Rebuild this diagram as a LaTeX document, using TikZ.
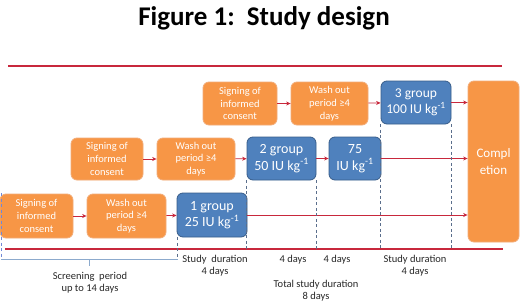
\documentclass[tikz,border=0pt]{standalone}
\usepackage{fontspec}
\setmainfont{Carlito}
\usetikzlibrary{arrows.meta}
\definecolor{boxorange}{RGB}{247,150,70}
\definecolor{orangeedge}{RGB}{242,172,120}
\definecolor{boxblue}{RGB}{79,129,189}
\definecolor{blueedge}{RGB}{56,93,138}
\definecolor{linered}{RGB}{200,40,60}
\definecolor{dashgrey}{RGB}{90,110,140}
\definecolor{bracketblue}{RGB}{140,170,205}
\definecolor{labelgrey}{RGB}{40,40,40}
\tikzset{
  obox/.style={draw=orangeedge, line width=0.8pt, fill=boxorange, rounded corners=6pt,
    text=white, align=center, inner sep=0pt, font=\fontsize{10.5}{12.7}\selectfont},
  bbox/.style={draw=blueedge, line width=0.8pt, fill=boxblue, rounded corners=6pt,
    text=white, align=center, inner sep=0pt, font=\fontsize{14}{16.5}\selectfont},
  flow/.style={draw=linered, line width=0.8pt, -{Stealth[length=4.5pt,width=4pt]}},
  redrule/.style={draw=linered, line width=1.8pt},
  vdash/.style={draw=dashgrey, line width=0.8pt, dash pattern=on 3pt off 2.5pt},
  lbl/.style={text=labelgrey, align=center, inner sep=0pt, font=\fontsize{10.5}{12}\selectfont}
}
\begin{document}
\begin{tikzpicture}[x=1pt,y=-1pt]
\useasboundingbox[fill=white] (0,0) rectangle (520,303);
\node[font=\fontsize{27}{30}\selectfont\bfseries, inner sep=0pt] (title) at (264,18) {Figure 1:\ \ Study design};
% red rules
\coordinate (tl) at (8,66); \coordinate (tr) at (502,66);
\coordinate (bl) at (5,249); \coordinate (br) at (503,249);
\draw[redrule] (tl) -- (tr);
\draw[redrule] (bl) -- (br);
% boxes row 1
\node[obox, minimum width=74pt, minimum height=43pt] (s1) at (240,103.5) {Signing of\\informed\\consent};
\node[obox, minimum width=77pt, minimum height=43pt] (w1) at (329.5,103.5) {Wash out\\period ≥4\\days};
\node[bbox, minimum width=70pt, minimum height=43pt, font=\fontsize{13.5}{16.5}\selectfont] (g3) at (416,102.5) {3 group\\100 IU kg\textsuperscript{-1}};
\node[obox, minimum width=51pt, minimum height=161pt, font=\fontsize{13}{16.5}\selectfont] (c) at (493.5,161.5) {Compl\\etion};
% row 2
\node[obox, minimum width=72pt, minimum height=42pt] (s2) at (107,159) {Signing of\\informed\\consent};
\node[obox, minimum width=78pt, minimum height=42pt] (w2) at (196,159) {Wash out\\period ≥4\\days};
\node[bbox, minimum width=69pt, minimum height=43pt] (g2) at (281.5,158.5) {2 group\\50 IU kg\textsuperscript{-1}};
\node[bbox, minimum width=52pt, minimum height=43pt] (g75) at (355,158.5) {75\\IU kg\textsuperscript{-1}};
% row 3
\node[obox, minimum width=73pt, minimum height=44pt] (s3) at (36.5,216) {Signing of\\informed\\consent};
\node[obox, minimum width=79pt, minimum height=44pt] (w3) at (126.5,216) {Wash out\\period ≥4\\days};
\node[bbox, minimum width=70pt, minimum height=44pt] (g1) at (212,215) {1 group\\25 IU kg\textsuperscript{-1}};
% flows
\draw[flow] (s1) -- (w1);
\draw[flow] (w1) -- (g3);
\draw[flow] (g3.east) -- (g3.east -| c.west);
\draw[flow] (s2) -- (w2);
\draw[flow] (w2) -- (g2);
\draw[flow] (g2) -- (g75);
\draw[flow] (g75.east) -- (g75.east -| c.west);
\draw[flow] (s3) -- (w3);
\draw[flow] (w3) -- (g1);
\draw[flow] (g1.east) -- (g1.east -| c.west);
% dashed verticals
\coordinate (bk1) at (178,259);
\draw[vdash] (g1.south west) ++(1,0) coordinate (d0) -- (d0 |- bk1);
\draw[vdash] (g2.south west) -- (g2.south west |- bl);
\draw[vdash] (g2.south east) -- (g2.south east |- bl);
\draw[vdash] (g3.south west) -- (g3.south west |- bl);
\draw[vdash] (g3.south east) -- (g3.south east |- bl);
\coordinate (lt) at (1.2,193); \coordinate (lb) at (1.2,259);
\draw[vdash, draw=bracketblue!80!blue] (lt) -- (lb);
% bracket
\coordinate (bk0) at (1.2,259);
\coordinate (bkm) at (89,259); \coordinate (bkmd) at (89,266);
\draw[draw=bracketblue, line width=1pt] (bk0) -- (bk1);
\draw[draw=bracketblue, line width=1pt] (bkm) -- (bkmd);
% labels
\node[lbl] (l1) at (90,283) {Screening\ \ period\\up to 14 days};
\node[lbl] (l2) at (215,266) {Study\ \ duration\\4 days};
\node[lbl] (l3) at (293,260) {4 days};
\node[lbl] (l4) at (337,260) {4 days};
\node[lbl] (l5) at (415,266) {Study duration\\4 days};
\node[lbl] (l6) at (316,291) {Total study duration\\8 days};
\end{tikzpicture}
\end{document}
